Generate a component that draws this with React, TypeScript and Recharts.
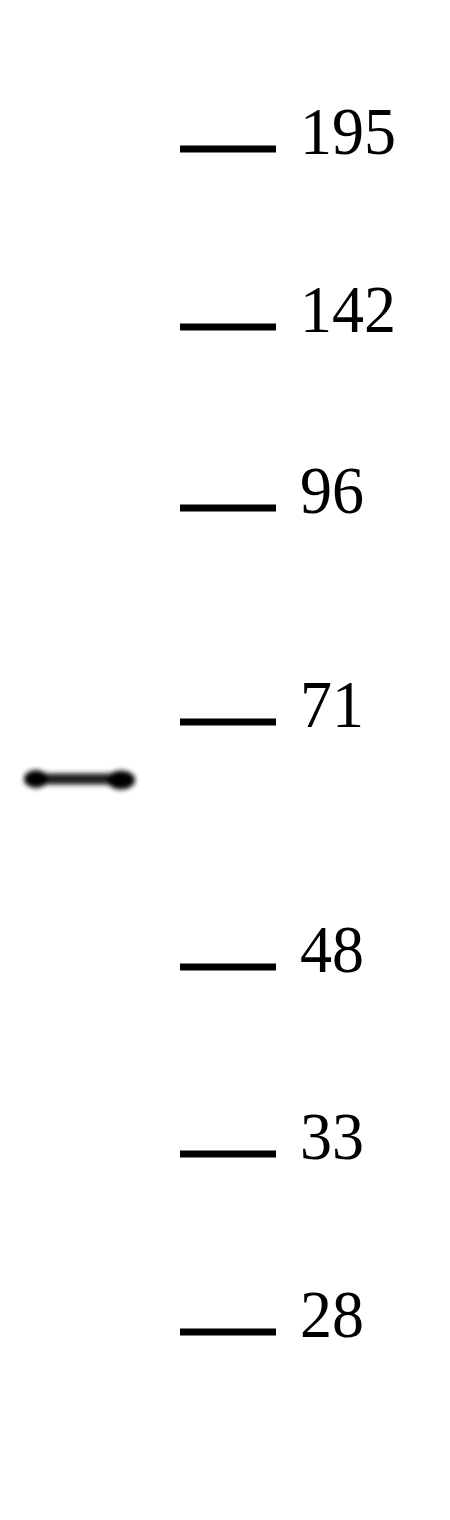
import React from "react";
import { ScatterChart, Scatter, XAxis, YAxis } from "recharts";

// Molecular-weight marker ladder (kDa) and their migration distance (arbitrary units, top = 0)
const markerLabels = ["195", "142", "96", "71", "48", "33", "28"];
const markerMigration = [14.9, 32.7, 50.8, 72.2, 96.7, 115.4, 133.2];
const ladderLane = 22.8;

// Detected sample band
const sampleLane = 8.0;
const bandMigration = [77.9];

const markerData = markerLabels.map((label, i) => ({
  lane: ladderLane,
  migration: markerMigration[i],
  label,
}));
const bandData = bandMigration.map((m) => ({ lane: sampleLane, migration: m }));

const MarkerShape = (props: any) => {
  const { cx, cy, payload } = props;
  const tx = cx + 72;
  const ty = cy + 5;
  return (
    <g>
      <rect x={cx - 48} y={cy - 3.5} width={96} height={7} fill="#000" />
      <text
        x={tx}
        y={ty}
        transform={`translate(0 ${ty}) scale(1 1.07) translate(0 ${-ty})`}
        fontFamily='"Liberation Serif", "Times New Roman", serif'
        fontSize={64}
        fill="#000"
        textAnchor="start"
      >
        {payload.label}
      </text>
    </g>
  );
};

const BandShape = (props: any) => {
  const { cx, cy } = props;
  return (
    <g filter="url(#bandBlur)">
      <rect x={cx - 50} y={cy - 5.5} width={100} height={11} rx={5} fill="#1a1a1a" />
      <ellipse cx={cx - 44} cy={cy} rx={12} ry={9} fill="#000" />
      <ellipse cx={cx + 41} cy={cy + 1} rx={14} ry={9.5} fill="#000" />
    </g>
  );
};

export default function App() {
  return (
    <div style={{ position: "absolute", left: 0, top: 0, width: 450, height: 1520, background: "#fff" }}>
      <ScatterChart width={450} height={1520} margin={{ top: 0, right: 0, bottom: 0, left: 0 }}>
        <defs>
          <filter id="bandBlur" x="-50%" y="-200%" width="200%" height="500%">
            <feGaussianBlur stdDeviation="2.6" />
          </filter>
        </defs>
        <XAxis type="number" dataKey="lane" domain={[0, 45]} hide />
        <YAxis type="number" dataKey="migration" domain={[0, 152]} reversed hide />
        <Scatter data={markerData} shape={MarkerShape} isAnimationActive={false} />
        <Scatter data={bandData} shape={BandShape} isAnimationActive={false} />
      </ScatterChart>
    </div>
  );
}
